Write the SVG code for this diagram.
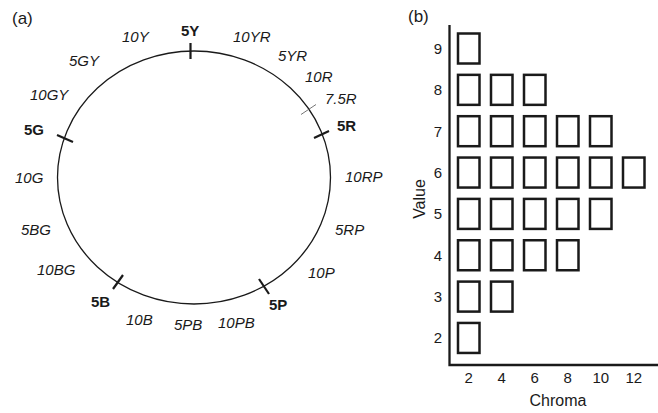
<svg xmlns="http://www.w3.org/2000/svg" width="658" height="413" viewBox="0 0 658 413">
<style>
  text { font-family: "Liberation Sans", Arial, sans-serif; fill: #1a1a1a; }
  .hue { font-size: 15px; font-style: italic; }
  .main { font-size: 15px; font-weight: bold; }
  .panel { font-size: 17px; }
  .num { font-size: 15px; text-anchor: middle; }
  .title { font-size: 16px; text-anchor: middle; }
  .tick { stroke: #1a1a1a; stroke-width: 2.2; fill: none; }
  .thin { stroke: #666; stroke-width: 0.9; fill: none; }
  .chip { fill: #fff; stroke: #1a1a1a; stroke-width: 2.5; }
</style>
<rect width="658" height="413" fill="#fff"/>

<g id="panel-a">
  <text class="panel" x="12" y="24">(a)</text>
  <ellipse id="hue-circle" cx="194" cy="177.5" rx="136.5" ry="126.5" fill="none" stroke="#1a1a1a" stroke-width="1.3"/>
  <g id="ticks">
    <line class="tick" x1="190.5" y1="43" x2="190.5" y2="59"/>
    <line class="tick" x1="314" y1="138" x2="329" y2="131"/>
    <line class="tick" x1="57" y1="135" x2="73" y2="142"/>
    <line class="tick" x1="113" y1="289" x2="123" y2="275"/>
    <line class="tick" x1="259" y1="279" x2="269" y2="294"/>
    <line class="thin" x1="301" y1="114.5" x2="316" y2="104.5"/>
  </g>
  <g id="hue-labels">
    <text class="hue" x="122" y="42">10Y</text>
    <text class="main" x="181" y="36">5Y</text>
    <text class="hue" x="233" y="42">10YR</text>
    <text class="hue" x="69" y="66">5GY</text>
    <text class="hue" x="278" y="61">5YR</text>
    <text class="hue" x="305" y="82">10R</text>
    <text class="hue" x="325" y="104">7.5R</text>
    <text class="hue" x="30" y="100">10GY</text>
    <text class="main" x="24" y="135">5G</text>
    <text class="main" x="337" y="131">5R</text>
    <text class="hue" x="15" y="183">10G</text>
    <text class="hue" x="345" y="182">10RP</text>
    <text class="hue" x="21" y="235">5BG</text>
    <text class="hue" x="335" y="235">5RP</text>
    <text class="hue" x="37" y="275">10BG</text>
    <text class="hue" x="308" y="278">10P</text>
    <text class="main" x="91" y="307">5B</text>
    <text class="main" x="269" y="310">5P</text>
    <text class="hue" x="126" y="325">10B</text>
    <text class="hue" x="174" y="330">5PB</text>
    <text class="hue" x="218" y="328">10PB</text>
  </g>
</g>

<g id="panel-b">
  <text class="panel" x="408" y="22">(b)</text>
  <path id="axes" d="M449.5,25 V365 H658" fill="none" stroke="#1a1a1a" stroke-width="2.3"/>
  <g id="chips">
    <rect class="chip" x="458" y="33.5" width="21.5" height="30"/>
    <rect class="chip" x="458" y="74.85" width="21.5" height="30"/>
    <rect class="chip" x="491" y="74.85" width="21.5" height="30"/>
    <rect class="chip" x="524" y="74.85" width="21.5" height="30"/>
    <rect class="chip" x="458" y="116.2" width="21.5" height="30"/>
    <rect class="chip" x="491" y="116.2" width="21.5" height="30"/>
    <rect class="chip" x="524" y="116.2" width="21.5" height="30"/>
    <rect class="chip" x="557" y="116.2" width="21.5" height="30"/>
    <rect class="chip" x="590" y="116.2" width="21.5" height="30"/>
    <rect class="chip" x="458" y="157.55" width="21.5" height="30"/>
    <rect class="chip" x="491" y="157.55" width="21.5" height="30"/>
    <rect class="chip" x="524" y="157.55" width="21.5" height="30"/>
    <rect class="chip" x="557" y="157.55" width="21.5" height="30"/>
    <rect class="chip" x="590" y="157.55" width="21.5" height="30"/>
    <rect class="chip" x="623" y="157.55" width="21.5" height="30"/>
    <rect class="chip" x="458" y="198.9" width="21.5" height="30"/>
    <rect class="chip" x="491" y="198.9" width="21.5" height="30"/>
    <rect class="chip" x="524" y="198.9" width="21.5" height="30"/>
    <rect class="chip" x="557" y="198.9" width="21.5" height="30"/>
    <rect class="chip" x="590" y="198.9" width="21.5" height="30"/>
    <rect class="chip" x="458" y="240.25" width="21.5" height="30"/>
    <rect class="chip" x="491" y="240.25" width="21.5" height="30"/>
    <rect class="chip" x="524" y="240.25" width="21.5" height="30"/>
    <rect class="chip" x="557" y="240.25" width="21.5" height="30"/>
    <rect class="chip" x="458" y="281.6" width="21.5" height="30"/>
    <rect class="chip" x="491" y="281.6" width="21.5" height="30"/>
    <rect class="chip" x="458" y="322.95" width="21.5" height="30"/>
  </g>
  <g id="value-labels">
    <text class="num" x="438" y="54">9</text>
    <text class="num" x="438" y="95.3">8</text>
    <text class="num" x="438" y="136.7">7</text>
    <text class="num" x="438" y="178">6</text>
    <text class="num" x="438" y="219.4">5</text>
    <text class="num" x="438" y="260.7">4</text>
    <text class="num" x="438" y="302.1">3</text>
    <text class="num" x="438" y="343.4">2</text>
  </g>
  <g id="chroma-labels">
    <text class="num" x="468.75" y="383">2</text>
    <text class="num" x="501.75" y="383">4</text>
    <text class="num" x="534.75" y="383">6</text>
    <text class="num" x="567.75" y="383">8</text>
    <text class="num" x="600.75" y="383">10</text>
    <text class="num" x="633.75" y="383">12</text>
  </g>
  <text class="title" x="558" y="406">Chroma</text>
  <text class="title" transform="translate(425,199) rotate(-90)">Value</text>
</g>
</svg>
